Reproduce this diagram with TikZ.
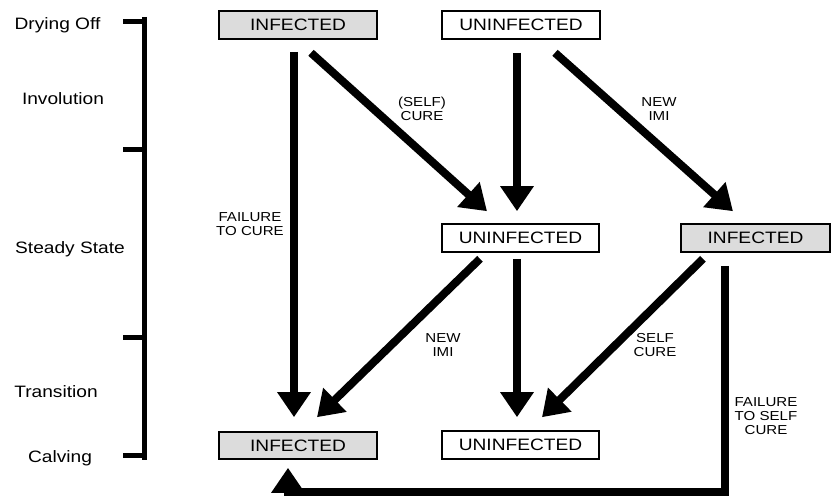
\documentclass[tikz,border=0pt]{standalone}
\usepackage{fontspec}
\setmainfont{Liberation Sans}
\newfontfamily\lab[FakeStretch=1.16]{Liberation Sans}
\usetikzlibrary{arrows.meta,calc}
\definecolor{boxgrey}{HTML}{DCDCDC}
\begin{document}
\begin{tikzpicture}[x=1pt,y=-1pt,
  box/.style={draw=black,line width=1.6pt,inner sep=0pt,
    font=\lab\fontsize{16.5}{18}\selectfont,text height=11.8pt,text depth=0pt},
  gbox/.style={box,fill=boxgrey},
  wbox/.style={box,fill=white},
  arr/.style={line width=8pt,line join=miter,-{Triangle[length=25pt,width=32pt]}},
  phase/.style={font=\lab\fontsize{16.5}{18}\selectfont,anchor=base,inner sep=0pt},
  lbl/.style={font=\lab\fontsize{13}{14}\selectfont,align=center,inner sep=0pt},
  brk/.style={line width=5pt}
]
\useasboundingbox (0,0) rectangle (831,497);

% phase labels
\node[phase] (p1) at (57.5,30) {Drying Off};
\node[phase] (p2) at (63,105) {Involution};
\node[phase] (p3) at (70,254) {Steady State};
\node[phase] (p4) at (56,398) {Transition};
\node[phase] (p5) at (60,462) {Calving};

% bracket
\coordinate (bt) at (144.5,17);
\coordinate (bb) at (144.5,460);
\coordinate (t1) at (123,22);
\coordinate (t2) at (123,150);
\coordinate (t3) at (123,338);
\coordinate (t4) at (123,455);
\draw[brk] (bt) -- (bb);
\draw[brk] (t1) -- (t1 -| bt);
\draw[brk] (t2) -- (t2 -| bt);
\draw[brk] (t3) -- (t3 -| bt);
\draw[brk] (t4) -- (t4 -| bt);

% boxes
\node[gbox,minimum width=158pt,minimum height=28pt] (inf1) at (298,25) {INFECTED};
\node[wbox,minimum width=158pt,minimum height=28pt] (un1) at (521,25) {UNINFECTED};
\node[wbox,minimum width=157pt,minimum height=28pt] (un2) at (520.5,238) {UNINFECTED};
\node[gbox,minimum width=149pt,minimum height=28pt] (inf2) at (755.5,238) {INFECTED};
\node[gbox,minimum width=158pt,minimum height=27pt] (inf3) at (298,445.5) {INFECTED};
\node[wbox,minimum width=157pt,minimum height=28pt] (un3) at (520.5,445) {UNINFECTED};

% arrows
\draw[arr] ($(inf1.south)+(-4,12)$) -- ($(inf3.north)+(-4,-14)$);
\draw[arr] ($(inf1.south)+(13,13)$) -- ($(un2.north)+(-33.5,-12)$);
\draw[arr] ($(un1.south)+(-4,13)$) -- ($(un2.north)+(-3.5,-12)$);
\draw[arr] ($(un1.south)+(34,13)$) -- ($(inf2.north)+(-22.5,-12)$);
\draw[arr] ($(un2.south)+(-40.5,6)$) -- ($(inf3.north)+(19,-14)$);
\draw[arr] ($(un2.south)+(-3.5,6)$) -- ($(un3.north)+(-3.5,-13)$);
\draw[arr] ($(inf2.south)+(-52.5,6)$) -- ($(un3.north)+(21.5,-13)$);
\coordinate (c8) at ($(inf3.south)+(-10,32.5)$);
\draw[arr] ($(inf2.south)+(-30.5,13)$) |- (c8) -- ($(inf3.south)+(-10,8)$);

% labels
\node[lbl] (l1) at (422,109) {(SELF)\\CURE};
\node[lbl] (l2) at (659,109) {NEW\\IMI};
\node[lbl] (l3) at (250,224) {FAILURE\\TO CURE};
\node[lbl] (l4) at (443,345) {NEW\\IMI};
\node[lbl] (l5) at (655,345) {SELF\\CURE};
\node[lbl] (l6) at (766,416) {FAILURE\\TO SELF\\CURE};
\end{tikzpicture}
\end{document}
